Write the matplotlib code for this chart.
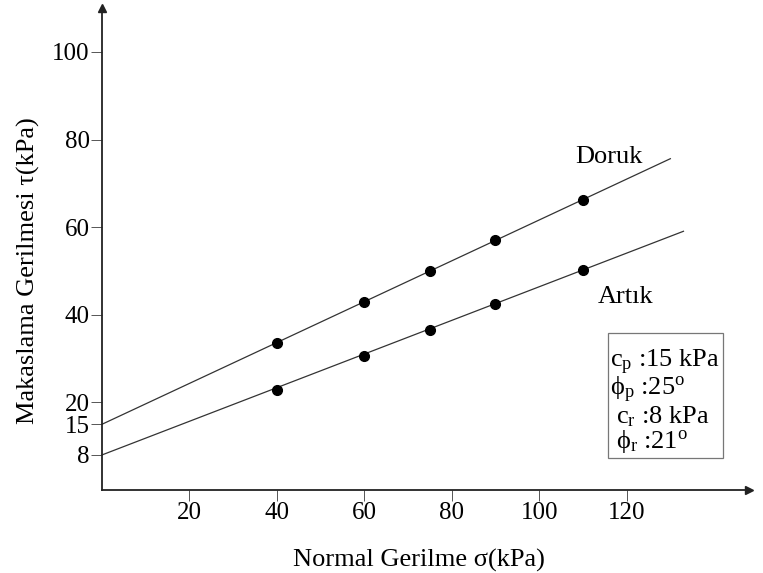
import numpy as np
import matplotlib
matplotlib.use('Agg')
import matplotlib.pyplot as plt
from matplotlib.patches import Rectangle

plt.rcParams['font.family'] = ['Liberation Serif', 'DejaVu Serif']
plt.rcParams['mathtext.fontset'] = 'custom'
plt.rcParams['mathtext.rm'] = 'Liberation Serif'
plt.rcParams['mathtext.it'] = 'Liberation Serif:italic'

# shear box results
sigma = [40, 60, 75, 90, 110]
tau_peak = [33.5, 43, 50, 57, 66.3]
tau_res = [22.8, 30.6, 36.6, 42.4, 50.1]

c_peak, phi_peak = 15, 25
c_res, phi_res = 8, 21

xticks = [20, 40, 60, 80, 100, 120]
yticks = [8, 15, 20, 40, 60, 80, 100]

fig = plt.figure(figsize=(7.63, 5.73), dpi=100)
ax = fig.add_axes([0.1337, 0.1449, 0.848, 0.841])
ax.set_xlim(0, 148)
ax.set_ylim(0, 110)

# failure envelopes
xp = np.linspace(0, 130, 50)
xr = np.linspace(0, 133, 50)
ax.plot(xp, c_peak + np.tan(np.radians(phi_peak)) * xp, color='#333333', lw=0.9, clip_on=False)
ax.plot(xr, c_res + np.tan(np.radians(phi_res)) * xr, color='#333333', lw=0.9, clip_on=False)
ax.plot(sigma, tau_peak, 'o', color='black', ms=7)
ax.plot(sigma, tau_res, 'o', color='black', ms=7)

for s in ['top', 'right']:
    ax.spines[s].set_visible(False)
for s in ['left', 'bottom']:
    ax.spines[s].set_color('#222222')
    ax.spines[s].set_linewidth(1.3)
ax.plot(1, 0, '>', color='#222222', ms=6, transform=ax.transAxes, clip_on=False)
ax.plot(0, 1, '^', color='#222222', ms=6, transform=ax.transAxes, clip_on=False)

ax.set_xticks(xticks)
ax.set_yticks(yticks)
ax.tick_params(axis='both', labelsize=18, length=8, width=0.7, color='#555555', pad=1)
ax.set_xlabel('Normal Gerilme σ(kPa)', fontsize=19)
ax.xaxis.set_label_coords(0.49, -0.122)
ax.set_ylabel('Makaslama Gerilmesi τ(kPa)', fontsize=19)
ax.yaxis.set_label_coords(-0.096, 0.456)

ax.text(108.2, 74.7, 'Doruk', fontsize=19, va='baseline')
ax.text(113.5, 42.7, 'Artık', fontsize=19, va='baseline')

# parameter box
ax.add_patch(Rectangle((115.8, 7.3), 26.3, 28.5, fc='white', ec='#777777', lw=0.9))
ax.text(116.3, 27.9, '$\\mathrm{c_p}$ :15 kPa', fontsize=19, va='baseline')
ax.text(116.3, 21.7, 'ϕ$_\\mathrm{p}$ :25$^\\mathrm{o}$', fontsize=19, va='baseline')
ax.text(117.5, 15.3, '$\\mathrm{c_r}$ :8 kPa', fontsize=19, va='baseline')
ax.text(117.5, 9.6, 'ϕ$_\\mathrm{r}$ :21$^\\mathrm{o}$', fontsize=19, va='baseline')

fig.savefig('out.png', dpi=100)
